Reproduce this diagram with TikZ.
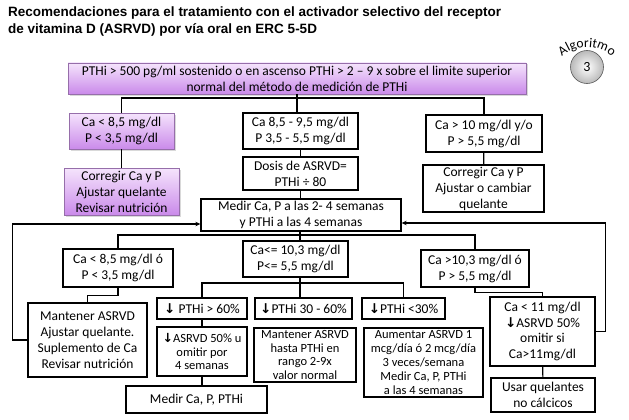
\documentclass[tikz,border=0pt]{standalone}
\usepackage{fontspec}
\setmainfont{Carlito}
\newfontfamily\titlefont{Liberation Sans}
\newfontfamily\arrowfont{DejaVu Sans}
\usepackage{tikz}
\usetikzlibrary{arrows.meta,positioning,calc,shadows,decorations.text}
\usepackage{xcolor}
\definecolor{lilatop}{RGB}{245,228,252}
\definecolor{lilabot}{RGB}{202,138,234}
\definecolor{lilaedge}{RGB}{150,110,170}
\newcommand{\bajar}{{\arrowfont\bfseries\char"2193}}

\begin{document}
\begin{tikzpicture}[x=1pt,y=-1pt,>={Stealth[length=5pt,width=4.5pt]},
    every node/.style={font=\fontsize{13.5}{16}\selectfont,align=center,inner sep=1pt},
    wbox/.style={draw,line width=1.3pt,fill=white},
    pbox/.style={draw=lilaedge,line width=0.6pt,top color=lilatop,bottom color=lilabot,
      drop shadow={shadow xshift=1.5pt,shadow yshift=-1.5pt,opacity=0.3}},
    chico/.style={font=\fontsize{12.5}{13.8}\selectfont,inner sep=0.5pt},
    link/.style={line width=1.2pt}]
    \useasboundingbox (0,0) rectangle (629,420);
    % title and badge
    \node[anchor=north west,align=left,inner sep=0pt,font=\titlefont\bfseries\fontsize{13.5}{17}\selectfont] (titulo) at (8,7)
      {Recomendaciones para el tratamiento con el activador selectivo del receptor\\de vitamina D (ASRVD) por vía oral en ERC 5-5D};
    \node[circle,draw=gray!70!black,inner color=white,outer color=gray!55,minimum size=33pt,line width=0.6pt,
      font=\fontsize{14}{16}\selectfont] (alg) at (587,67) {3};
    \path[decorate,decoration={text along path,text align=center,text={|\fontsize{13.5}{15}\selectfont|Algoritmo}}]
      (560.13,58.13) arc[start angle=225,end angle=315,radius=38];
    % first level
    \node[pbox,minimum width=458pt,minimum height=31pt] (pthi) at (297,78.5)
      {PTHi > 500 pg/ml sostenido o en ascenso PTHi > 2 – 9 x sobre el limite superior\\normal del método de medición de PTHi};
    \node[pbox,minimum width=105pt,minimum height=36pt] (bajo) at (121.5,131) {Ca < 8,5 mg/dl\\P < 3,5 mg/dl};
    \node[wbox,minimum width=115pt,minimum height=36pt] (normal) at (300.5,131) {Ca 8,5 - 9,5 mg/dl\\P 3,5 - 5,5 mg/dl};
    \node[wbox,minimum width=116pt,minimum height=37pt] (alto) at (484,133.5) {Ca > 10 mg/dl y/o\\P > 5,5 mg/dl};
    \node[pbox,minimum width=115pt,minimum height=47pt] (corrbajo) at (121.5,191.5) {Corregir Ca y P\\Ajustar quelante\\Revisar nutrición};
    \node[wbox,minimum width=115pt,minimum height=33pt] (dosis) at (300.5,173.5) {Dosis de ASRVD=\\PTHi ÷ 80};
    \node[wbox,minimum width=121pt,minimum height=47pt] (corralto) at (483.5,188.5) {Corregir Ca y P\\Ajustar o cambiar\\quelante};
    \node[wbox,minimum width=200pt,minimum height=32pt] (medir) at (301,215) {Medir Ca, P a las 2- 4 semanas\\y PTHi a las 4 semanas};
    % second level
    \node[wbox,minimum width=110pt,minimum height=38pt] (cabajo) at (118,268) {Ca < 8,5 mg/dl ó\\P < 3,5 mg/dl};
    \node[wbox,minimum width=105pt,minimum height=36pt] (caok) at (295.5,259) {Ca<= 10,3 mg/dl\\P<= 5,5 mg/dl};
    \node[wbox,minimum width=108pt,minimum height=37pt] (caalto) at (475,268.5) {Ca >10,3 mg/dl ó\\P > 5,5 mg/dl};
    \node[wbox,minimum width=119pt,minimum height=74pt] (mantener) at (87.5,340) {Mantener ASRVD\\Ajustar quelante.\\Suplemento de Ca\\Revisar nutrición};
    \node[wbox,minimum width=90pt,minimum height=21pt] (baja60) at (202,308.5) {\bajar{} PTHi > 60\%};
    \node[wbox,minimum width=97pt,minimum height=21pt] (baja30) at (303.5,308.5) {\bajar PTHi 30 - 60\%};
    \node[wbox,minimum width=83pt,minimum height=21pt] (baja0) at (403.5,308.5) {\bajar PTHi <30\%};
    \node[wbox,chico,minimum width=90pt,minimum height=49pt] (reducir) at (202,351.5) {\bajar ASRVD 50\% u\\omitir por\\4 semanas};
    \node[wbox,chico,minimum width=102pt,minimum height=54pt] (seguir) at (305,355) {Mantener ASRVD\\hasta PTHi en\\rango 2-9x\\valor normal};
    \node[wbox,chico,minimum width=119pt,minimum height=69pt] (aumentar) at (423.5,362.5) {Aumentar ASRVD 1\\mcg/día ó 2 mcg/día\\3 veces/semana\\Medir Ca, P, PTHi\\a las 4 semanas};
    \node[wbox,minimum width=141pt,minimum height=27pt] (medir2) at (196.5,399.5) {Medir Ca, P, PTHi};
    \node[wbox,minimum width=105pt,minimum height=69pt,font=\fontsize{13.5}{15.5}\selectfont] (ca11) at (542.5,331.5) {Ca < 11 mg/dl\\\bajar ASRVD 50\%\\omitir si\\Ca>11mg/dl};
    \node[wbox,minimum width=104pt,minimum height=34pt] (quelantes) at (543,395) {Usar quelantes\\no cálcicos};
    % connectors
    \coordinate (r1) at (297,98);
    \draw[link] (pthi.south -| r1) -- (r1);
    \draw[link] (r1) -| (bajo.north);
    \draw[link] (r1) -| (alto.north);
    \draw[link] (r1) -- (r1 |- normal.north);
    \draw[link] (bajo) -- (corrbajo);
    \draw[link] (normal) -- (dosis);
    \draw[link] (dosis.south) -- (dosis.south |- medir.north);
    \draw[link] (alto) -- (corralto);
    \coordinate (r2) at (300,235);
    \draw[link] (medir.south -| r2) -- (r2);
    \draw[link] (r2) -| (cabajo.north);
    \draw[link] (r2) -| (caalto.north);
    \draw[link] (r2) -- (r2 |- caok.north);
    \coordinate (r3) at (300,283);
    \draw[link] (caok.south -| r3) -- (r3);
    \draw[link] (r3) -| (baja60.north);
    \draw[link] (r3) -| (baja0.north);
    \draw[link] (r3) -- (r3 |- baja30.north);
    \draw[link] (cabajo.south) -- ++(0,8) -| (mantener.north);
    \draw[link] (caalto.south) -- ++(0,5) -| (ca11.north);
    \draw[link] (baja60) -- (reducir);
    \draw[link] (reducir.south) -- (reducir.south |- medir2.north);
    \draw[link] (ca11) -- (quelantes);
    \draw[link,->] (mantener.west) -- ++(-15,0) |- ([yshift=-9pt]medir.west);
    \draw[link,->] (ca11.east) -- ++(10,0) |- ([yshift=-8pt]medir.east);
\end{tikzpicture}
\end{document}
